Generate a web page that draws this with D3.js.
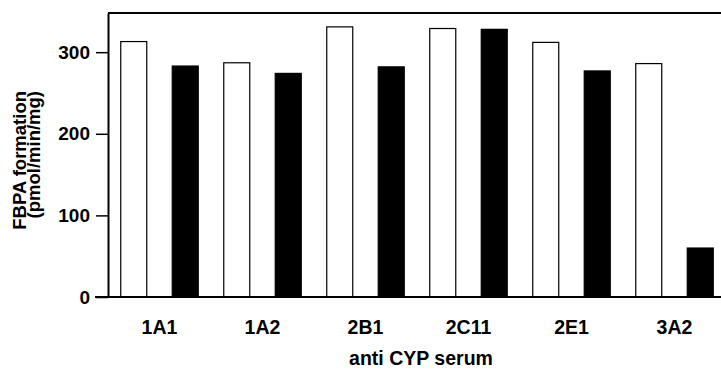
<!DOCTYPE html>
<html>
<head>
<meta charset="utf-8">
<script src="https://cdn.jsdelivr.net/npm/d3@7"></script>
<style>
  html, body { margin: 0; padding: 0; background: #fff; }
  svg { display: block; }
  text { font-family: "Liberation Sans", Arial, Helvetica, sans-serif; font-weight: bold; fill: #000; }
</style>
</head>
<body>
<svg id="chart" width="721" height="373"></svg>
<script>
const categories = ["1A1", "1A2", "2B1", "2C11", "2E1", "3A2"];
const seriesNames = ["control", "antiserum"];
const controlValues = [313, 287, 331, 329, 312, 286];
const antiserumValues = [283, 274, 282, 328, 277, 60];
const yTicks = [0, 100, 200, 300];
const xTitle = "anti CYP serum";
const yTitle1 = "FBPA formation";
const yTitle2 = "(pmol/min/mg)";

const W = 721, H = 373;
const mLeft = 108, mTop = 13, mBottom = 297;
const groupStep = 103;

const svg = d3.select("#chart");

const x0 = d3.scaleBand()
  .domain(categories)
  .range([mLeft, mLeft + groupStep * categories.length])
  .paddingInner(0).paddingOuter(0);

const x1 = d3.scaleBand()
  .domain(seriesNames)
  .range([0, x0.bandwidth()])
  .paddingInner(0.495)
  .paddingOuter(0.2476);

const y = d3.scaleLinear().domain([0, 348]).range([mBottom, mTop]);

const color = d3.scaleOrdinal().domain(seriesNames).range(["#fff", "#000"]);

const data = categories.map((c, i) => ({
  cat: c,
  vals: [
    { s: "control", v: controlValues[i] },
    { s: "antiserum", v: antiserumValues[i] }
  ]
}));

// bars
const g = svg.append("g");
g.selectAll("g.grp")
  .data(data)
  .join("g")
  .attr("class", "grp")
  .attr("transform", d => `translate(${x0(d.cat)},0)`)
  .selectAll("rect")
  .data(d => d.vals)
  .join("rect")
  .attr("x", d => x1(d.s))
  .attr("y", d => y(d.v))
  .attr("width", x1.bandwidth())
  .attr("height", d => y(0) - y(d.v))
  .attr("fill", d => color(d.s))
  .attr("stroke", "#000")
  .attr("stroke-width", 1.2);

// top border
svg.append("line")
  .attr("x1", mLeft).attr("x2", W)
  .attr("y1", y.range()[1]).attr("y2", y.range()[1])
  .attr("stroke", "#000").attr("stroke-width", 2);

// y axis
const yAxis = d3.axisLeft(y).tickValues(yTicks).tickSize(12).tickSizeOuter(0).tickPadding(6);
const ya = svg.append("g").attr("transform", `translate(${mLeft},0)`).call(yAxis);
ya.select(".domain").attr("stroke-width", 2);
ya.selectAll(".tick line").attr("stroke-width", 1.5);
ya.selectAll("text").style("font-size", "19px").attr("font-family", null);

// baseline
svg.append("line")
  .attr("x1", mLeft - 13).attr("x2", W)
  .attr("y1", y(0)).attr("y2", y(0))
  .attr("stroke", "#000").attr("stroke-width", 2);

// x axis labels
const xAxis = d3.axisBottom(x0).tickSize(0).tickPadding(23);
const xa = svg.append("g").attr("transform", `translate(0,${y(0)})`).call(xAxis);
xa.select(".domain").remove();
xa.selectAll("text").style("font-size", "19.5px").attr("font-family", null);

// x title
svg.append("text")
  .attr("x", 421).attr("y", 365)
  .attr("text-anchor", "middle")
  .style("font-size", "19.5px")
  .text(xTitle);

// y title
svg.append("text")
  .attr("transform", "translate(26,91) rotate(-90)")
  .attr("text-anchor", "end")
  .style("font-size", "18.5px")
  .text(yTitle1);
svg.append("text")
  .attr("transform", "translate(40,91) rotate(-90)")
  .attr("text-anchor", "end")
  .style("font-size", "18.5px")
  .text(yTitle2);
</script>
</body>
</html>
